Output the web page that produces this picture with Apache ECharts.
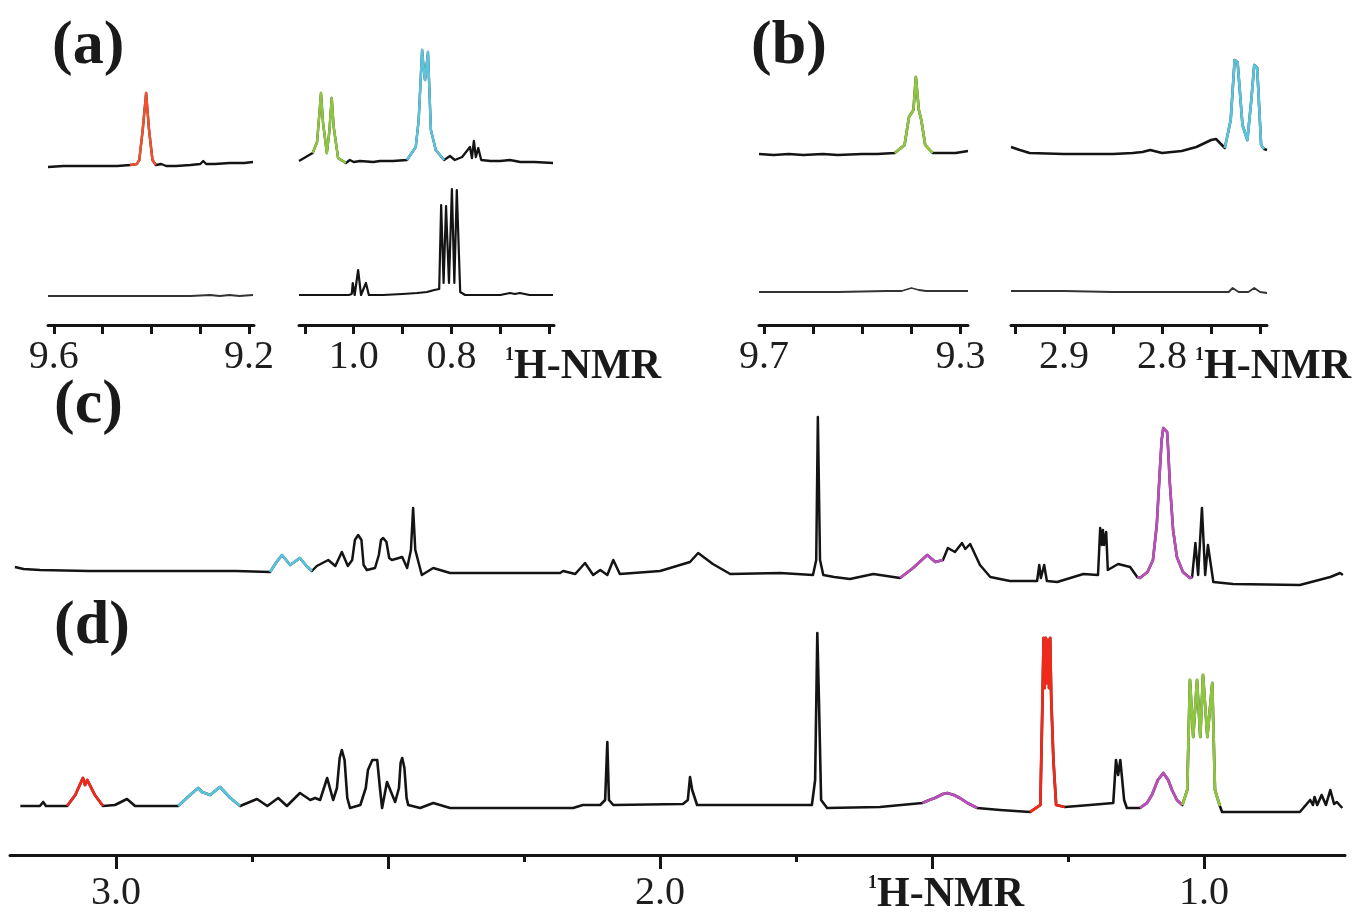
<!DOCTYPE html>
<html>
<head>
<meta charset="utf-8">
<script src="https://cdn.jsdelivr.net/npm/echarts@6.0.0/dist/echarts.min.js"></script>
<style>
html,body{margin:0;padding:0;background:#fff;}
#chart{width:1356px;height:917px;}
</style>
</head>
<body>
<div id="chart"></div>
<script>
// ---------- DATA (ppm, intensity above baseline) ----------
// Panel (a), left window 9.6–9.2 ppm
const aLeftTop = [[9.612,-2],[9.58,-1],[9.55,-1],[9.50,-1],[9.47,-1],[9.444,0],[9.43,1],[9.425,5],[9.418,35],[9.411,72],[9.405,35],[9.398,5],[9.391,0],[9.38,1],[9.37,-1],[9.35,-1],[9.32,0],[9.30,1],[9.294,4],[9.288,1],[9.27,1],[9.24,2],[9.21,2],[9.192,3]];
const aLeftBottom = [[9.612,0],[9.50,0],[9.40,0],[9.32,0],[9.28,1],[9.26,0],[9.24,1],[9.22,0],[9.192,1]];
// Panel (a), right window 1.1–0.6 ppm
const aRightTop = [[1.112,1],[1.084,9],[1.075,20],[1.070,50],[1.067,69],[1.063,40],[1.055,9],[1.050,30],[1.045,64],[1.041,35],[1.032,4],[1.016,-1],[1.008,2],[1.000,0],[0.987,1],[0.960,0],[0.946,1],[0.920,1],[0.891,2],[0.873,15],[0.867,42],[0.860,112],[0.857,95],[0.854,82],[0.851,95],[0.848,110],[0.842,32],[0.832,12],[0.815,2],[0.803,6],[0.793,2],[0.778,5],[0.762,15],[0.758,4],[0.754,21],[0.750,5],[0.745,14],[0.739,2],[0.720,1],[0.700,1],[0.680,2],[0.659,0],[0.630,0],[0.592,-1]];
const aRightBottom = [[1.112,0],[1.05,0],[1.01,0],[1.004,1],[1.002,12],[0.998,0],[0.991,25],[0.985,0],[0.975,12],[0.969,0],[0.94,0],[0.90,1],[0.87,2],[0.85,3],[0.835,5],[0.825,6],[0.821,90],[0.816,12],[0.811,89],[0.805,12],[0.799,106],[0.794,12],[0.789,105],[0.782,3],[0.772,0],[0.73,0],[0.70,0],[0.68,2],[0.67,1],[0.66,2],[0.64,0],[0.592,0]];
// Panel (b), left window 9.7–9.3 ppm
const bLeftTop = [[9.71,0],[9.68,-1],[9.65,0],[9.62,-1],[9.58,0],[9.55,-1],[9.50,0],[9.47,0],[9.434,1],[9.414,9],[9.405,37],[9.396,44],[9.391,77],[9.385,44],[9.380,34],[9.372,9],[9.357,1],[9.33,1],[9.31,1],[9.285,3]];
const bLeftBottom = [[9.71,0],[9.55,0],[9.45,1],[9.42,1],[9.40,4],[9.385,2],[9.37,1],[9.285,1]];
// Panel (b), right window 2.95–2.7 ppm
const bRightTop = [[2.954,6],[2.945,3],[2.935,0],[2.90,-1],[2.87,-1],[2.85,-1],[2.83,0],[2.82,1],[2.812,3],[2.80,0],[2.78,2],[2.765,6],[2.75,13],[2.745,14],[2.736,5],[2.73,33],[2.726,93],[2.723,91],[2.718,28],[2.713,13],[2.709,53],[2.706,88],[2.703,85],[2.699,8],[2.696,4],[2.693,3]];
const bRightBottom = [[2.954,1],[2.90,1],[2.85,0],[2.80,0],[2.75,0],[2.732,0],[2.728,4],[2.722,0],[2.712,0],[2.706,4],[2.700,0],[2.693,-1]];
// Panel (c)
const cTrace = [[3.186,13],[3.17,11],[3.14,10],[3.05,9],[2.938,9],[2.85,9],[2.78,9],[2.717,8],[2.705,18],[2.695,25],[2.680,15],[2.662,22],[2.650,14],[2.640,9],[2.631,14],[2.610,20],[2.597,14],[2.585,28],[2.574,14],[2.566,20],[2.561,40],[2.555,45],[2.549,40],[2.545,15],[2.539,10],[2.524,12],[2.517,25],[2.513,40],[2.509,42],[2.503,38],[2.498,22],[2.493,20],[2.474,23],[2.465,12],[2.458,30],[2.454,72],[2.450,30],[2.438,5],[2.417,12],[2.386,7],[2.30,7],[2.184,7],[2.178,9],[2.156,6],[2.138,17],[2.123,5],[2.110,10],[2.097,5],[2.086,20],[2.074,6],[2.000,9],[1.945,18],[1.930,27],[1.903,16],[1.871,6],[1.779,7],[1.719,5],[1.713,20],[1.710,163],[1.706,20],[1.700,5],[1.680,3],[1.651,1],[1.608,6],[1.559,2],[1.535,12],[1.509,25],[1.494,18],[1.480,20],[1.471,32],[1.458,28],[1.445,37],[1.439,31],[1.436,33],[1.430,36],[1.412,15],[1.393,3],[1.357,-1],[1.307,-1],[1.303,15],[1.300,2],[1.294,15],[1.289,-1],[1.270,-2],[1.222,6],[1.195,5],[1.191,52],[1.188,35],[1.186,50],[1.184,35],[1.180,48],[1.177,10],[1.158,16],[1.136,13],[1.123,3],[1.118,2],[1.104,8],[1.094,20],[1.087,55],[1.081,113],[1.078,140],[1.075,152],[1.068,148],[1.066,130],[1.063,97],[1.057,50],[1.050,23],[1.039,8],[1.026,2],[1.022,3],[1.016,37],[1.011,5],[1.004,72],[0.998,5],[0.993,35],[0.983,-2],[0.947,-4],[0.824,-5],[0.768,3],[0.750,7],[0.745,5]];
// Panel (d)
const dTrace = [[3.176,2],[3.140,2],[3.134,6],[3.129,2],[3.090,2],[3.075,13],[3.061,30],[3.057,23],[3.053,28],[3.039,13],[3.024,2],[3.002,3],[2.980,9],[2.965,2],[2.886,2],[2.864,13],[2.849,20],[2.842,16],[2.827,13],[2.816,18],[2.809,21],[2.790,10],[2.772,2],[2.741,9],[2.722,2],[2.702,10],[2.686,2],[2.662,15],[2.643,8],[2.634,10],[2.625,8],[2.612,30],[2.601,8],[2.594,20],[2.589,50],[2.585,58],[2.580,48],[2.575,10],[2.570,0],[2.551,3],[2.541,20],[2.537,38],[2.529,48],[2.520,48],[2.515,20],[2.511,0],[2.502,26],[2.487,6],[2.480,20],[2.477,45],[2.474,50],[2.470,40],[2.466,10],[2.463,3],[2.441,0],[2.417,5],[2.386,0],[2.160,0],[2.142,3],[2.110,3],[2.101,8],[2.097,66],[2.094,8],[2.086,3],[1.958,4],[1.949,8],[1.945,31],[1.941,18],[1.932,3],[1.816,3],[1.721,3],[1.715,28],[1.711,175],[1.708,108],[1.704,8],[1.693,0],[1.596,1],[1.518,5],[1.505,8],[1.495,10],[1.480,14],[1.472,15],[1.460,13],[1.449,10],[1.435,5],[1.417,0],[1.375,-2],[1.320,-4],[1.301,3],[1.297,110],[1.295,170],[1.293,120],[1.291,170],[1.289,125],[1.287,168],[1.285,120],[1.283,170],[1.281,110],[1.277,48],[1.272,3],[1.256,1],[1.210,3],[1.167,5],[1.162,48],[1.158,33],[1.154,48],[1.147,8],[1.142,0],[1.118,0],[1.105,5],[1.096,13],[1.085,28],[1.075,35],[1.066,28],[1.059,18],[1.050,8],[1.040,3],[1.031,18],[1.026,128],[1.020,71],[1.013,128],[1.007,71],[1.002,133],[0.994,71],[0.985,125],[0.980,18],[0.971,2],[0.967,-4],[0.824,-4],[0.805,8],[0.800,3],[0.797,11],[0.792,3],[0.784,13],[0.776,3],[0.768,18],[0.761,4],[0.756,6],[0.746,0]];

// Coloured (assigned) regions: [high ppm, low ppm]
const aLeftTopRed = [[9.444, 9.391]];
const aRightTopGreen = [[1.084, 1.016]];
const aRightTopCyan = [[0.891, 0.815]];
const bLeftTopGreen = [[9.434, 9.357]];
const bRightTopCyan = [[2.736, 2.696]];
const cCyan = [[2.717, 2.640]];
const cMagenta = [[1.559, 1.476], [1.123, 1.022]];
const dRed = [[3.090, 3.024], [1.320, 1.256]];
const dCyan = [[2.886, 2.772]];
const dMagenta = [[1.518, 1.417], [1.118, 1.040]];
const dGreen = [[1.040, 0.971]];

// Axis ticks and labels
const aLeftTicks = [9.6, 9.5, 9.4, 9.3, 9.2];
const aLeftLabels = [9.6, 9.2];
const aRightTicks = [1.1, 1.0, 0.9, 0.8, 0.7, 0.6];
const aRightLabels = [1.0, 0.8];
const bLeftTicks = [9.7, 9.6, 9.5, 9.4, 9.3];
const bLeftLabels = [9.7, 9.3];
const bRightTicks = [2.95, 2.9, 2.85, 2.8, 2.75, 2.7];
const bRightLabels = [2.9, 2.8];
const cdMajorTicks = [3.0, 2.5, 2.0, 1.5, 1.0];
const cdMinorTicks = [2.75, 2.25, 1.75, 1.25];
const cdLabels = [3.0, 2.0, 1.0];

// ---------- LAYOUT ----------
const INK = '#141414';
const COL = {red:'#ee2a1c', redA:'#f2512f', green:'#8fc641', cyan:'#5cc3dd', magenta:'#bb4fba'};
const SERIF = '"Liberation Serif","Times New Roman",serif';

// each grid: 1 intensity unit = 1 px
const gridDefs = [
  {left:48,  width:206,  base:165, yMin:-10, yMax:130, xMin:9.19,  xMax:9.612},
  {left:48,  width:206,  base:296, yMin:-29, yMax:130, xMin:9.19,  xMax:9.612, ticks:aLeftTicks, labels:aLeftLabels},
  {left:299, width:255,  base:162, yMin:-10, yMax:130, xMin:0.59,  xMax:1.112},
  {left:299, width:255,  base:295, yMin:-30, yMax:130, xMin:0.59,  xMax:1.112, ticks:aRightTicks, labels:aRightLabels},
  {left:759, width:209,  base:154, yMin:-10, yMax:130, xMin:9.285, xMax:9.71},
  {left:759, width:209,  base:292, yMin:-33, yMax:130, xMin:9.285, xMax:9.71, ticks:bLeftTicks, labels:bLeftLabels},
  {left:1011,width:256,  base:153, yMin:-10, yMax:130, xMin:2.693, xMax:2.954},
  {left:1011,width:256,  base:292, yMin:-33, yMax:130, xMin:2.693, xMax:2.954, ticks:bRightTicks, labels:bRightLabels},
  {left:10,  width:1335, base:580, yMin:-10, yMax:190, xMin:0.741, xMax:3.195},
  {left:10,  width:1335, base:808, yMin:-47, yMax:190, xMin:0.741, xMax:3.195, ticks:cdMajorTicks, labels:cdLabels, big:true}
];

const grid = [], xAxis = [], yAxis = [], series = [];
gridDefs.forEach((g, i) => {
  grid.push({left:g.left, width:g.width, top:g.base - g.yMax, height:g.yMax - g.yMin, containLabel:false});
  const ax = {type:'value', gridIndex:i, min:g.xMin, max:g.xMax, inverse:true, splitLine:{show:false}};
  if (g.ticks) {
    Object.assign(ax, {
      position:'bottom',
      axisLine:{show:true, onZero:false, lineStyle:{color:INK, width:3}},
      axisTick:{show:true, inside:false, length:g.big ? 14 : 9, customValues:g.ticks, lineStyle:{color:INK, width:3}},
      axisLabel:{show:true, customValues:g.labels, formatter:v => Number(v).toFixed(1), fontFamily:SERIF, fontSize:40, color:'#1e1e1e', margin:g.big ? 18 : 12}
    });
  } else {
    ax.show = false;
  }
  xAxis.push(ax);
  yAxis.push({type:'value', gridIndex:i, min:g.yMin, max:g.yMax, show:false});
});
// minor ticks on the (c)/(d) axis
xAxis.push({type:'value', gridIndex:9, min:0.741, max:3.195, inverse:true, position:'bottom',
  axisLine:{show:false, onZero:false}, splitLine:{show:false}, axisLabel:{show:false},
  axisTick:{show:true, inside:false, length:7, customValues:cdMinorTicks, lineStyle:{color:INK, width:3}}});

function addTrace(gi, data, width, color, highlights) {
  series.push({type:'line', xAxisIndex:gi, yAxisIndex:gi, data:data, showSymbol:false, symbol:'none',
    lineStyle:{color:color, width:width, join:'round'}, z:2, silent:true, animation:false});
  (highlights || []).forEach(h => {
    h.ranges.forEach(r => {
      const seg = data.filter(p => p[0] <= r[0] + 1e-9 && p[0] >= r[1] - 1e-9);
      series.push({type:'line', xAxisIndex:gi, yAxisIndex:gi, data:seg, showSymbol:false, symbol:'none',
        lineStyle:{color:h.color, width:width + 0.2, join:'round'}, z:3, silent:true, animation:false});
    });
  });
}

addTrace(0, aLeftTop, 2.3, INK, [{ranges:aLeftTopRed, color:COL.redA}]);
addTrace(1, aLeftBottom, 2, '#333', []);
addTrace(2, aRightTop, 2.3, INK, [{ranges:aRightTopGreen, color:COL.green}, {ranges:aRightTopCyan, color:COL.cyan}]);
addTrace(3, aRightBottom, 2.2, INK, []);
addTrace(4, bLeftTop, 2.5, INK, [{ranges:bLeftTopGreen, color:COL.green}]);
addTrace(5, bLeftBottom, 1.8, '#333', []);
addTrace(6, bRightTop, 2.5, INK, [{ranges:bRightTopCyan, color:COL.cyan}]);
addTrace(7, bRightBottom, 1.8, '#333', []);
addTrace(8, cTrace, 2.5, INK, [{ranges:cCyan, color:COL.cyan}, {ranges:cMagenta, color:COL.magenta}]);
addTrace(9, dTrace, 2.6, INK, [{ranges:dRed, color:COL.red}, {ranges:dCyan, color:COL.cyan}, {ranges:dMagenta, color:COL.magenta}, {ranges:dGreen, color:COL.green}]);

function panelLabel(txt, x, y) {
  return {type:'text', x:x, y:y, silent:true, style:{text:txt, fontFamily:SERIF, fontWeight:'bold', fontSize:62, fill:'#1a1a1a', align:'left', verticalAlign:'middle'}};
}
function nmrLabel(x, y) {
  return {type:'text', x:x, y:y, silent:true, style:{
    text:'{s|1}{m|H-NMR}', align:'left', verticalAlign:'middle', fill:'#1a1a1a',
    rich:{
      s:{fontFamily:SERIF, fontWeight:'bold', fontSize:18, fill:'#1a1a1a', verticalAlign:'top', lineHeight:42},
      m:{fontFamily:SERIF, fontWeight:'bold', fontSize:42, fill:'#1a1a1a', lineHeight:42}
    }}};
}

const chart = echarts.init(document.getElementById('chart'), null, {renderer:'canvas', width:1356, height:917});
chart.setOption({
  backgroundColor:'#ffffff',
  animation:false,
  grid:grid, xAxis:xAxis, yAxis:yAxis, series:series,
  graphic:[
    panelLabel('(a)', 52, 47),
    panelLabel('(b)', 751, 47),
    panelLabel('(c)', 54, 406),
    panelLabel('(d)', 54, 627),
    nmrLabel(505, 367),
    nmrLabel(1195, 367),
    nmrLabel(868, 895)
  ]
});
</script>
</body>
</html>
